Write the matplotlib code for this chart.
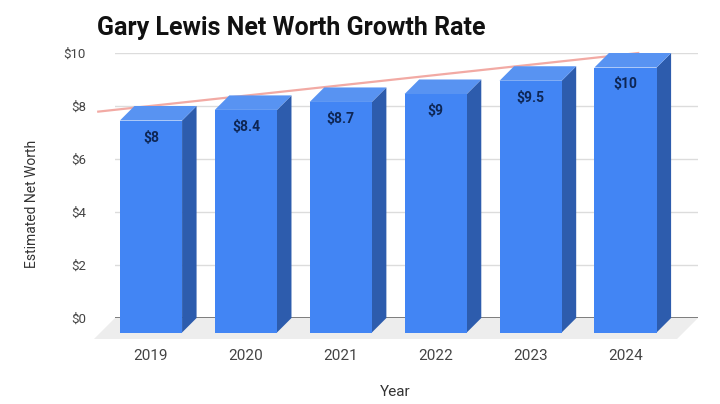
import matplotlib.pyplot as plt
import numpy as np
from matplotlib.patches import Polygon
from matplotlib.transforms import offset_copy

plt.rcParams['font.family'] = ['Roboto', 'DejaVu Sans']

years = ['2019', '2020', '2021', '2022', '2023', '2024']
net_worth = [8, 8.4, 8.7, 9, 9.5, 10]
value_labels = ['$8', '$8.4', '$8.7', '$9', '$9.5', '$10']
y_ticks = [0, 2, 4, 6, 8, 10]
y_tick_labels = ['$0', '$2', '$4', '$6', '$8', '$10']

front_col = '#4285f4'
side_col = '#2d5cad'
top_col = '#5893f2'
width = 0.655      # bar width (category units)
depth_px = 14.5    # 3d depth of the bars, pixels
floor_px = 21      # depth of the floor, pixels

x = np.arange(len(years))

fig = plt.figure(figsize=(7.2, 4.04), dpi=100)
ax = fig.add_axes([115 / 720, 86 / 404, 583 / 720, 265 / 404])
ax.set_xlim(-0.532, 5.611)
ax.set_ylim(0, 10)
for s in ax.spines.values():
    s.set_visible(False)

# pixel -> data conversion for the fake depth
x_per_px = (ax.get_xlim()[1] - ax.get_xlim()[0]) / (ax.get_position().width * 720)
y_per_px = (ax.get_ylim()[1] - ax.get_ylim()[0]) / (ax.get_position().height * 404)
dx = depth_px * x_per_px
dy = depth_px * y_per_px

# gridlines on the back wall
for t in y_ticks:
    ax.axhline(t, color='#666666' if t == 0 else '#dcdcdc', lw=1.2 if t == 0 else 1, zorder=1)

# floor
x0, x1 = ax.get_xlim()
fdx, fdy = floor_px * x_per_px, floor_px * y_per_px
ax.add_patch(Polygon([(x0, 0), (x1, 0), (x1 - fdx, -fdy), (x0 - fdx, -fdy)],
                     closed=True, fc='#ededed', ec='none', zorder=0, clip_on=False))

# trendline
coef = np.polyfit(x, net_worth, 1)
tx = np.array([-0.74, 4.95])
trans_back = offset_copy(ax.transData, fig=fig, x=3, y=3, units='dots')
ax.plot(tx, np.polyval(coef, tx), color='#f2aaa4', lw=1.6, zorder=2, transform=trans_back,
        clip_on=False)

# 3d bars
for i, v in zip(x, net_worth):
    l, r = i - width / 2, i + width / 2
    front = [(l - dx, -dy), (r - dx, -dy), (r - dx, v - dy), (l - dx, v - dy)]
    side = [(r - dx, -dy), (r, 0), (r, v), (r - dx, v - dy)]
    top = [(l - dx, v - dy), (r - dx, v - dy), (r, v), (l, v)]
    ax.add_patch(Polygon(side, closed=True, fc=side_col, ec='none', zorder=3, clip_on=False))
    ax.add_patch(Polygon(top, closed=True, fc=top_col, ec='none', zorder=3, clip_on=False))
    ax.add_patch(Polygon(front, closed=True, fc=front_col, ec='none', zorder=4, clip_on=False))

for i, v, lab in zip(x, net_worth, value_labels):
    ax.text(i - dx, v - dy - 17 * y_per_px, lab, ha='center', va='center', fontsize=10,
            fontweight='bold', color='#0e2654', zorder=5)

ax.set_yticks(y_ticks)
ax.set_yticklabels(y_tick_labels, fontsize=9.5, color='#444444')
ax.set_xticks(x - dx)
ax.set_xticklabels(years, fontsize=11, color='#444444')
ax.tick_params(axis='y', length=0, pad=21)
ax.tick_params(axis='x', length=0, pad=22)

fig.text(97 / 720, 1 - 28 / 404, 'Gary Lewis Net Worth Growth Rate', fontsize=18,
         fontweight='bold', color='#111111', ha='left', va='center')
fig.text(32 / 720, 1 - 204 / 404, 'Estimated Net Worth', rotation=90, fontsize=10,
         color='#333333', ha='center', va='center')
fig.text(395 / 720, 1 - 392 / 404, 'Year', fontsize=11, color='#333333', ha='center',
         va='center')

plt.savefig('out.png', dpi=100)
